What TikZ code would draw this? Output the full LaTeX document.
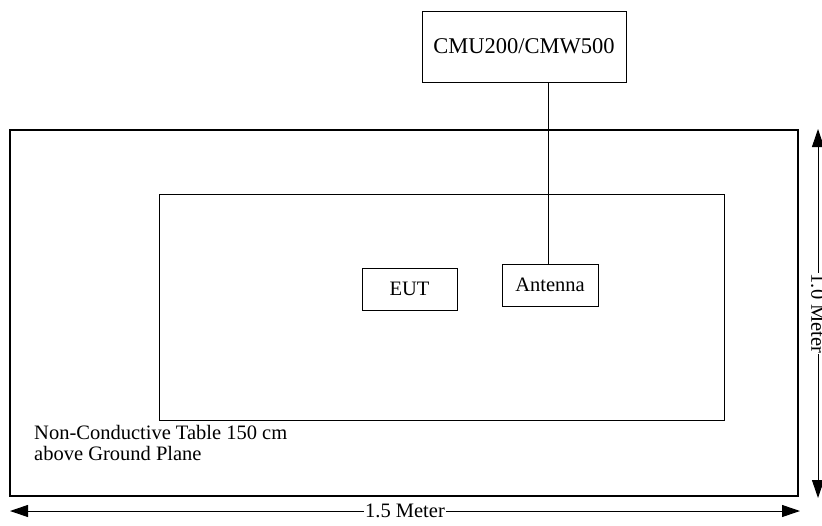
\documentclass[tikz,border=0pt]{standalone}
\usepackage{fontspec}
\setmainfont{Liberation Serif}
\usetikzlibrary{arrows.meta}

\begin{document}
\begin{tikzpicture}[x=1pt, y=-1pt,
    box/.style={draw, line width=1pt, inner sep=0pt, font=\fontsize{20.5}{22}\selectfont},
    dimline/.style={line width=1pt, {Triangle[length=18pt,width=12pt]}-{Triangle[length=18pt,width=12pt]}},
    dimlabel/.style={fill=white, inner sep=1pt, font=\fontsize{20.5}{22}\selectfont}]
    \useasboundingbox (0,0) rectangle (822,525);
    \draw [line width=2.6pt] (10,130) rectangle (798,496); % the table
    \draw [line width=1pt] (159,194) rectangle (724,420); % the test area on it
    \node [box, minimum width=204pt, minimum height=71pt, font=\fontsize{22.5}{24}\selectfont] (cmu) at (524,46.5) {CMU200/CMW500};
    \node [box, minimum width=96pt, minimum height=42pt] (antenna) at (550,285) {Antenna};
    \node [box, minimum width=95pt, minimum height=42pt] (eut) at (409.5,289) {EUT};
    \draw [line width=1pt] (antenna.north -| 548,0) -- (cmu.south -| 548,0); % cable to the tester
    \node [anchor=north west, align=left, inner sep=0pt, font=\fontsize{20.5}{21}\selectfont] (table) at (34,425) {Non-Conductive Table 150 cm\\above Ground Plane};
    \coordinate (wl) at (10,511);
    \coordinate (wr) at (800,511);
    \coordinate (ht) at (818,129);
    \coordinate (hb) at (818,498);
    \draw [dimline] (wl) -- node [dimlabel] (width) {1.5 Meter} (wr); % width of the table
    \draw [dimline] (ht) -- node [dimlabel, rotate=-90] (depth) {1.0 Meter} (hb); % depth of the table
\end{tikzpicture}
\end{document}
